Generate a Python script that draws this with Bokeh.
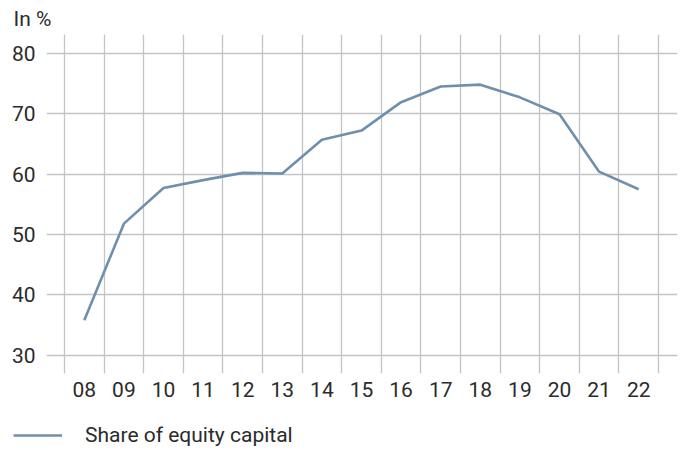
from bokeh.plotting import figure
from bokeh.layouts import column
from bokeh.models import FixedTicker, Legend, LegendItem, Range1d
from bokeh.embed import file_html
from bokeh.resources import INLINE

categories = ["08", "09", "10", "11", "12", "13", "14", "15", "16", "17", "18", "19", "20", "21", "22"]
equity_share = [35.8, 51.8, 57.7, 59.0, 60.2, 60.1, 65.7, 67.2, 71.9, 74.5, 74.8, 72.7, 69.9, 60.4, 57.5]
y_ticks = [30, 40, 50, 60, 70, 80]
series_name = "Share of equity capital"
unit_label = "In %"

FONT = "Roboto"
TXT = "#2b2b2b"
GRID = "#c4c4c4"
LINE = "#6f8fae"
LW = 2.6

xs = list(range(len(categories)))

p = figure(width=683, height=410, output_backend="svg", toolbar_location=None,
           x_range=Range1d(-0.9545, 14.98), y_range=Range1d(27.0, 83.1),
           min_border_left=46, min_border_right=6, min_border_top=33, min_border_bottom=37)
p.outline_line_color = None
p.background_fill_color = "white"
p.border_fill_color = "white"

p.title.text = unit_label
p.title.text_font = FONT
p.title.text_font_size = "21px"
p.title.text_font_style = "normal"
p.title.text_color = TXT
p.title.align = "left"
p.title.offset = -33
p.title.standoff = 8

r = p.line(xs, equity_share, line_color=LINE, line_width=LW)

# axes
p.xaxis.ticker = FixedTicker(ticks=xs)
p.xaxis.major_label_overrides = {i: c for i, c in enumerate(categories)}
p.yaxis.ticker = FixedTicker(ticks=y_ticks)
for ax in (p.xaxis[0], p.yaxis[0]):
    ax.axis_line_color = None
    ax.major_tick_line_color = None
    ax.minor_tick_line_color = None
    ax.major_tick_out = 0
    ax.major_tick_in = 0
    ax.major_label_text_font = FONT
    ax.major_label_text_font_size = "21px"
    ax.major_label_text_color = TXT
p.xaxis.major_label_standoff = 8
p.yaxis.major_label_standoff = 11

# grids
p.xgrid.ticker = FixedTicker(ticks=[i - 0.5 for i in range(len(categories) + 1)])
p.ygrid.ticker = FixedTicker(ticks=y_ticks)
for g in (p.xgrid[0], p.ygrid[0]):
    g.grid_line_color = GRID
    g.grid_line_width = 1.3

# legend strip below the chart (the series is drawn again here, outside the view,
# only so the legend item has a renderer with data)
lg = figure(width=683, height=40, output_backend="svg", toolbar_location=None,
            x_axis_location=None, y_axis_location=None,
            x_range=Range1d(0, 1), y_range=Range1d(0, 1),
            min_border_left=0, min_border_right=0, min_border_top=0, min_border_bottom=0)
lg.grid.visible = False
lg.outline_line_color = None
lr = lg.line(xs, equity_share, line_color=LINE, line_width=LW)
legend = Legend(items=[LegendItem(label=series_name, renderers=[lr])],
                location=(13, 3), orientation="horizontal",
                glyph_width=49, label_standoff=23, padding=0, margin=0,
                border_line_color=None, background_fill_alpha=0,
                label_text_font=FONT, label_text_font_size="21px", label_text_color=TXT)
lg.add_layout(legend, "center")

for fig in (p, lg):
    if "frame_align" in fig.properties():
        fig.frame_align = False

layout = column(p, lg, spacing=0)
open("out.html", "w").write(file_html(layout, INLINE))
